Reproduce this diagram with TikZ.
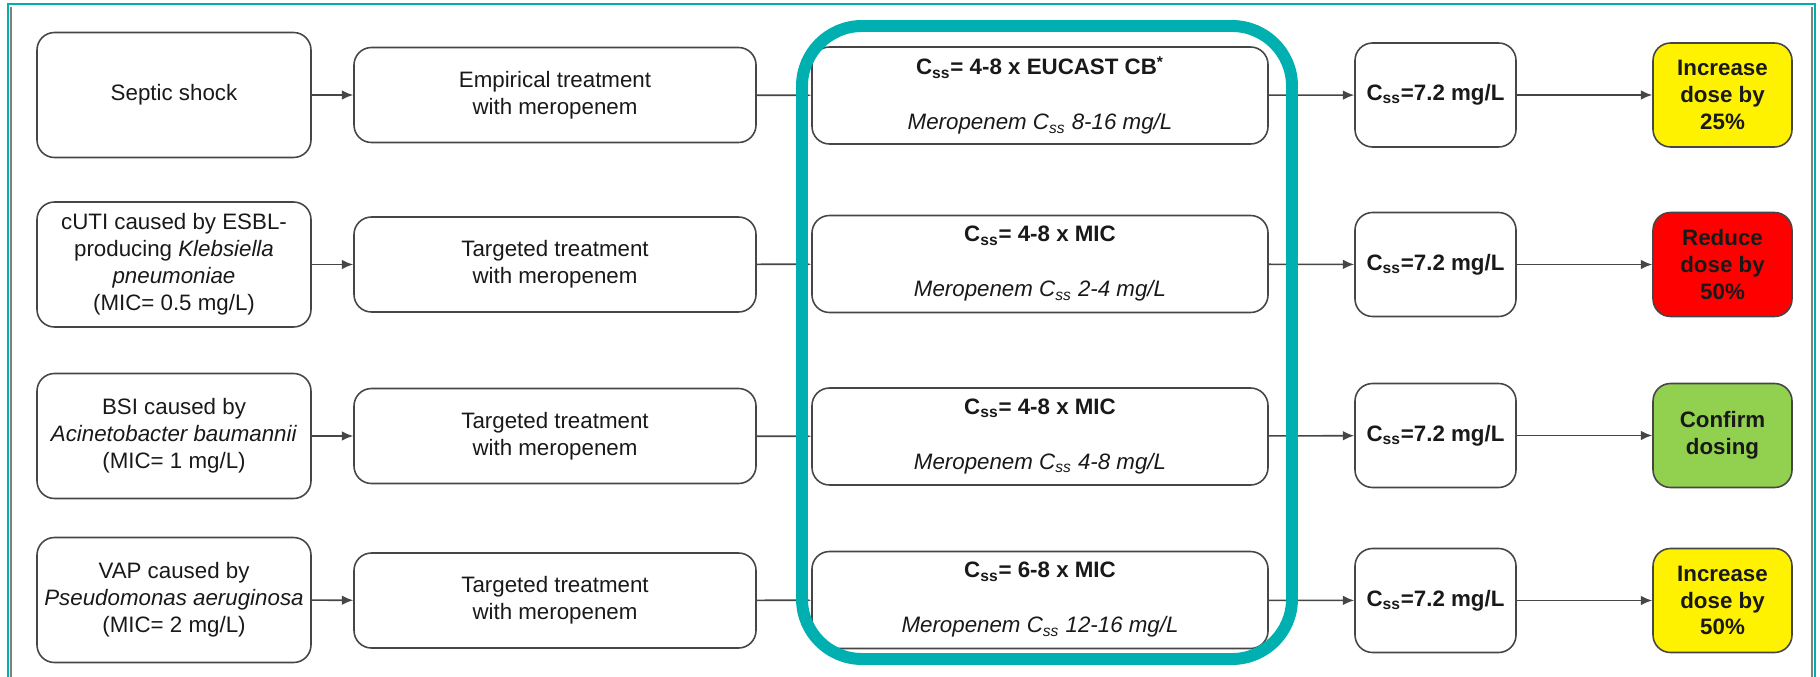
\documentclass[tikz,border=0pt]{standalone}
\usepackage{fontspec}
\setmainfont{Liberation Sans}
\usetikzlibrary{positioning,arrows.meta}
\definecolor{ringteal}{RGB}{0,176,176}
\definecolor{dosegreen}{RGB}{146,208,80}
\definecolor{boxline}{RGB}{70,70,70}

\begin{document}
\begin{tikzpicture}[
    box/.style={draw=boxline, line width=0.9pt, rounded corners=0.35cm, align=center, inner sep=2pt, text=black!90, font=\fontsize{12.7}{15.3}\selectfont},
    cond/.style={box, minimum width=5.48cm, minimum height=2.5cm},
    treat/.style={box, minimum width=8.04cm, minimum height=1.9cm},
    target/.style={box, minimum width=9.12cm, minimum height=1.94cm},
    meas/.style={box, minimum width=3.22cm, minimum height=2.08cm, font=\fontsize{12.7}{15.3}\selectfont\bfseries},
    act/.style={meas, minimum width=2.78cm},
    arrow/.style={-{Latex[length=6.5pt, width=5.5pt]}, line width=0.9pt, draw=boxline}
]
\useasboundingbox (0,0) rectangle (36.4,-13.54);

% Outer frame
\draw[ringteal, line width=1.2pt] (0.16,-13.54) -- (0.16,-0.08) -- (36.3,-0.08) -- (36.3,-13.54);
\draw[gray, line width=0.6pt] (0.22,-13.54) -- (0.22,-0.14);
\draw[gray, line width=0.6pt] (36.24,-13.54) -- (36.24,-0.14);

% Row 1: septic shock
\node[cond] (cond1) at (3.48, -1.9) {Septic shock};
\node[treat] (treat1) at (11.1, -1.9) {Empirical treatment\\with meropenem};
\node[target] (target1) at (20.8, -1.91) {\textbf{C\textsubscript{ss}= 4-8 x EUCAST CB\textsuperscript{*}}\\[16pt]\textit{Meropenem C\textsubscript{ss} 8-16 mg/L}};
\node[meas] (meas1) at (28.71, -1.9) {C\textsubscript{ss}=7.2 mg/L};
\node[act, fill=yellow] (act1) at (34.45, -1.9) {Increase\\dose by\\25\%};

% Row 2: cUTI
\node[cond] (cond2) at (3.48, -5.29) {cUTI caused by ESBL-\\producing \textit{Klebsiella}\\\textit{pneumoniae}\\(MIC= 0.5 mg/L)};
\node[treat] (treat2) at (11.1, -5.29) {Targeted treatment\\with meropenem};
\node[target] (target2) at (20.8, -5.28) {\textbf{C\textsubscript{ss}= 4-8 x MIC}\\[16pt]\textit{Meropenem C\textsubscript{ss} 2-4 mg/L}};
\node[meas] (meas2) at (28.71, -5.29) {C\textsubscript{ss}=7.2 mg/L};
\node[act, fill=red] (act2) at (34.45, -5.29) {Reduce\\dose by\\50\%};

% Row 3: BSI
\node[cond] (cond3) at (3.48, -8.72) {BSI caused by\\\textit{Acinetobacter baumannii}\\(MIC= 1 mg/L)};
\node[treat] (treat3) at (11.1, -8.72) {Targeted treatment\\with meropenem};
\node[target] (target3) at (20.8, -8.73) {\textbf{C\textsubscript{ss}= 4-8 x MIC}\\[16pt]\textit{Meropenem C\textsubscript{ss} 4-8 mg/L}};
\node[meas] (meas3) at (28.71, -8.71) {C\textsubscript{ss}=7.2 mg/L};
\node[act, fill=dosegreen] (act3) at (34.45, -8.71) {Confirm\\dosing};

% Row 4: VAP
\node[cond] (cond4) at (3.48, -12.0) {VAP caused by\\\textit{Pseudomonas aeruginosa}\\(MIC= 2 mg/L)};
\node[treat] (treat4) at (11.1, -12.01) {Targeted treatment\\with meropenem};
\node[target] (target4) at (20.8, -12.0) {\textbf{C\textsubscript{ss}= 6-8 x MIC}\\[16pt]\textit{Meropenem C\textsubscript{ss} 12-16 mg/L}};
\node[meas] (meas4) at (28.71, -12.01) {C\textsubscript{ss}=7.2 mg/L};
\node[act, fill=yellow] (act4) at (34.45, -12.01) {Increase\\dose by\\50\%};

% Connectors
\draw[arrow] (cond1) -- (treat1);
\draw[arrow] (treat1) -- (target1);
\draw[arrow] (target1) -- (meas1);
\draw[arrow] (meas1) -- (act1);

\draw[arrow] (cond2) -- (treat2);
\draw[arrow] (treat2) -- (target2);
\draw[arrow] (target2) -- (meas2);
\draw[arrow] (meas2) -- (act2);

\draw[arrow] (cond3) -- (treat3);
\draw[arrow] (treat3) -- (target3);
\draw[arrow] (target3) -- (meas3);
\draw[arrow] (meas3) -- (act3);

\draw[arrow] (cond4) -- (treat4);
\draw[arrow] (treat4) -- (target4);
\draw[arrow] (target4) -- (meas4);
\draw[arrow] (meas4) -- (act4);

% Highlight ring round the target column
\draw[ringteal, line width=6.8pt, rounded corners=1.2cm] (16.04,-0.52) rectangle (25.84,-13.18);

\end{tikzpicture}
\end{document}
